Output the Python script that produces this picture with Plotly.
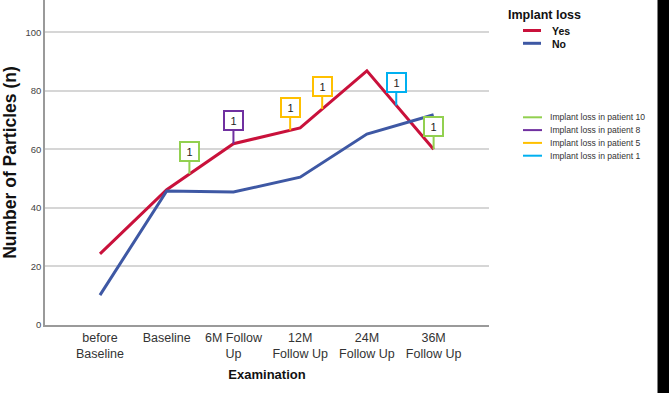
import numpy as np
import plotly.graph_objects as go

# ---------------- data ----------------
categories = ["before<br>Baseline", "Baseline", "6M Follow<br>Up", "12M<br>Follow Up",
              "24M<br>Follow Up", "36M<br>Follow Up"]
yes_values = [24.3, 46.2, 61.9, 67.3, 86.8, 60.0]
no_values = [10.2, 45.8, 45.4, 50.5, 65.2, 71.8]

# implant-loss markers: position along the "Yes" line (category index), label, colour
marker_pos = [1.34, 2.0, 2.85, 3.33, 4.44, 5.0]
marker_text = ["1", "1", "1", "1", "1", "1"]
marker_color = ["#92d050", "#7030a0", "#ffc000", "#ffc000", "#00b0f0", "#92d050"]

patient_labels = ["Implant loss in patient 10", "Implant loss in patient 8",
                  "Implant loss in patient 5", "Implant loss in patient 1"]
patient_colors = ["#92d050", "#7030a0", "#ffc000", "#00b0f0"]

RED = "#c9113b"
BLUE = "#3e58a4"
FONT = "Liberation Sans, Arial, sans-serif"

W, H = 669, 393
L, R, T, B = 45, 180, 0, 68
PW, PH = W - L - R, H - T - B


def px(x):
    return (x - L) / PW


def py(y):
    return (H - B - y) / PH


xidx = list(range(len(categories)))

fig = go.Figure()
fig.add_trace(go.Scatter(x=xidx, y=yes_values, mode="lines", name="Yes",
                         line=dict(color=RED, width=3), showlegend=False))
fig.add_trace(go.Scatter(x=xidx, y=no_values, mode="lines", name="No",
                         line=dict(color=BLUE, width=3), showlegend=False))

annotations = []
marker_y = np.interp(marker_pos, xidx, yes_values)
for xp, yp, t, c in zip(marker_pos, marker_y, marker_text, marker_color):
    annotations.append(dict(
        x=xp, y=float(yp), xref="x", yref="y", text=t,
        showarrow=True, arrowhead=0, arrowwidth=2, arrowcolor=c,
        ax=0, ay=-23, standoff=0, startstandoff=0,
        bordercolor=c, borderwidth=2, borderpad=2, bgcolor="white",
        width=13, height=13, font=dict(family=FONT, size=11, color="#222"),
    ))

# legend 1 (Implant loss)
annotations.append(dict(xref="paper", yref="paper", x=px(506), y=py(15), xanchor="left",
                        yanchor="middle", showarrow=False, text="<b>Implant loss</b>",
                        font=dict(family=FONT, size=12.5, color="#111")))
shapes = []
for name, col, yy in [("Yes", RED, 30.5), ("No", BLUE, 43.3)]:
    shapes.append(dict(type="line", xref="paper", yref="paper", x0=px(523), x1=px(541),
                       y0=py(yy), y1=py(yy), line=dict(color=col, width=3)))
    annotations.append(dict(xref="paper", yref="paper", x=px(550), y=py(yy + 1),
                            xanchor="left", yanchor="middle", showarrow=False,
                            text="<b>%s</b>" % name,
                            font=dict(family=FONT, size=10.5, color="#111")))

# legend 2 (patients)
for i, (lab, col) in enumerate(zip(patient_labels, patient_colors)):
    yy = 117.3 + 12.8 * i
    shapes.append(dict(type="line", xref="paper", yref="paper", x0=px(523), x1=px(542),
                       y0=py(yy), y1=py(yy), line=dict(color=col, width=2)))
    annotations.append(dict(xref="paper", yref="paper", x=px(548), y=py(yy),
                            xanchor="left", yanchor="middle", showarrow=False, text=lab,
                            font=dict(family=FONT, size=8.6, color="#333")))

# black bar at right edge (page border of the original)
shapes.append(dict(type="line", xref="paper", yref="paper", x0=px(663.5), x1=px(663.5),
                   y0=py(H + 5), y1=py(-5), line=dict(color="black", width=12),
                   layer="above"))

fig.update_layout(
    width=W, height=H,
    margin=dict(l=L, r=R, t=T, b=B, autoexpand=False),
    plot_bgcolor="white", paper_bgcolor="white",
    font=dict(family=FONT, color="#333"),
    showlegend=False,
    annotations=annotations,
    shapes=shapes,
    xaxis=dict(
        range=[-0.824, 5.83], tickmode="array", tickvals=xidx, ticktext=categories,
        showgrid=False, zeroline=False, showline=True, linecolor="#9a9a9a", linewidth=1.5,
        ticks="", tickfont=dict(family=FONT, size=12.5, color="#333"),
        title=dict(text="<b>Examination</b>", font=dict(family=FONT, size=13, color="#111"),
                   standoff=10),
        automargin=False,
    ),
    yaxis=dict(
        range=[0, 111], tickvals=[0, 20, 40, 60, 80, 100],
        showgrid=True, gridcolor="#d6d6d6", gridwidth=1.5, zeroline=False,
        showline=True, linecolor="#9a9a9a", linewidth=1.5, ticks="",
        tickfont=dict(family=FONT, size=9.5, color="#444"),
        title=dict(text="<b>Number of Particles (n)</b>",
                   font=dict(family=FONT, size=17.5, color="#111"), standoff=10),
        automargin=False,
    ),
)

fig.write_html("out.html")
